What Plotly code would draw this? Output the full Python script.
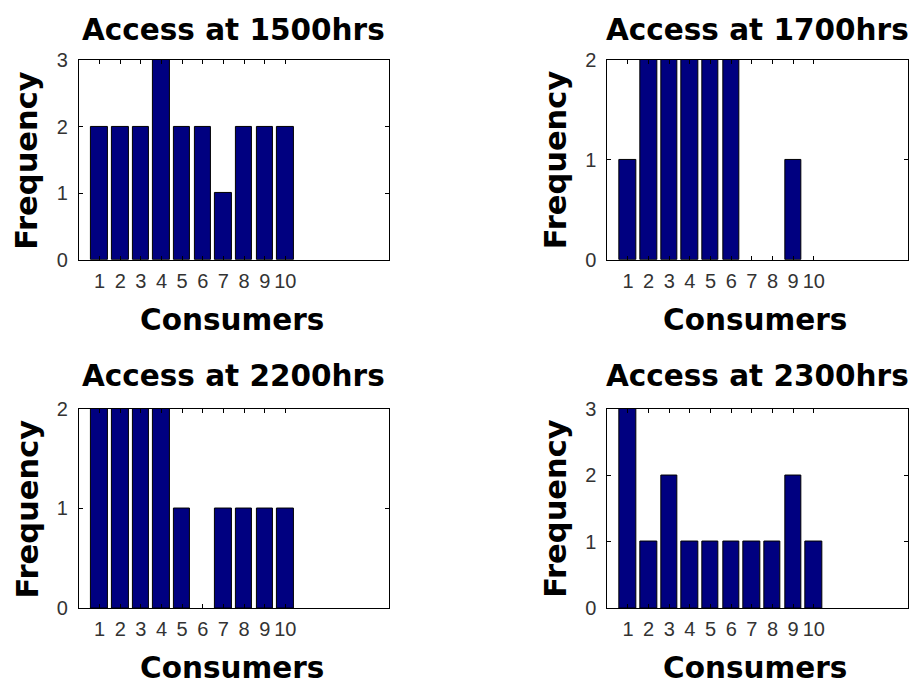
import plotly.graph_objects as go

consumers = list(range(1, 11))
titles = ["Access at 1500hrs", "Access at 1700hrs", "Access at 2200hrs", "Access at 2300hrs"]
freq_1500 = [2, 2, 2, 3, 2, 2, 1, 2, 2, 2]
freq_1700 = [1, 2, 2, 2, 2, 2, 0, 0, 1, 0]
freq_2200 = [2, 2, 2, 2, 1, 0, 1, 1, 1, 1]
freq_2300 = [3, 1, 2, 1, 1, 1, 1, 1, 2, 1]
y_max = [3, 2, 2, 3]
series = [freq_1500, freq_1700, freq_2200, freq_2300]

OFFX = 8
W, H = 901, 684
VS, VO = 0.969, 17.0  # observed vertical mapping of the page

def px(x):
    return (x - OFFX) / W
def py(y):
    return 1 - ((y - VO) / VS) / H

# panel pixel boxes in target coords (left, right, top, bottom)
boxes = [(79, 389, 58, 258), (608, 917, 58, 258), (79, 389, 407, 607), (608, 917, 407, 607)]
unit = 310 / 15.0
title_y = [28, 28, 374, 374]

fig = go.Figure()
BOLD = dict(family="DejaVu Sans", size=29.5, color="black", weight="bold")
BOLDV = dict(family="DejaVu Sans", size=30.5, color="black", weight="bold")
TICKF = dict(family="Liberation Sans", size=20, color="#333")

for i, (vals, box) in enumerate(zip(series, boxes)):
    n = i + 1
    xa = "x" if n == 1 else f"x{n}"
    ya = "y" if n == 1 else f"y{n}"
    fig.add_trace(go.Bar(x=consumers, y=vals, width=0.8, xaxis=xa, yaxis=ya,
                         marker=dict(color="#000080",
                                     line=dict(color="black", width=[1 if v > 0 else 0 for v in vals])),
                         showlegend=False))
    l, r, t, b = box
    rr = min(r, OFFX + W)
    xr = [0, (rr - l) / unit]
    axcommon = dict(showline=True, linecolor="black", linewidth=1, mirror="ticks",
                    ticks="inside", ticklen=4, tickcolor="black", showgrid=False,
                    zeroline=False, tickfont=TICKF)
    fig.layout[f"xaxis{'' if n == 1 else n}"] = dict(
        domain=[px(l), px(rr)], range=xr, anchor=ya, tickmode="array",
        tickvals=consumers, ticktext=[str(c) for c in consumers], ticklabelstandoff=3, **axcommon)
    fig.layout[f"yaxis{'' if n == 1 else n}"] = dict(
        domain=[py(b), py(t)], range=[0, y_max[i]], anchor=xa, dtick=1, ticklabelstandoff=6,
        **axcommon)
    cx = (l + r) / 2 if r < 900 else 758
    fig.add_annotation(text=titles[i], x=px(cx), y=py(title_y[i]), xref="paper", yref="paper",
                       showarrow=False, font=BOLD, xanchor="center", yanchor="middle")
    fig.add_annotation(text="Consumers", x=px(cx - 2), y=py(b + 60), xref="paper", yref="paper",
                       showarrow=False, font=BOLD, xanchor="center", yanchor="middle")
    fig.add_annotation(text="Frequency", x=px(l - 52), y=py((t + b) / 2), xref="paper", yref="paper",
                       showarrow=False, font=BOLDV, xanchor="center", yanchor="middle", textangle=-90)

fig.update_layout(width=W, height=H, margin=dict(l=0, r=0, t=0, b=0),
                  paper_bgcolor="white", plot_bgcolor="white", bargap=0)
fig.write_html("out.html")
